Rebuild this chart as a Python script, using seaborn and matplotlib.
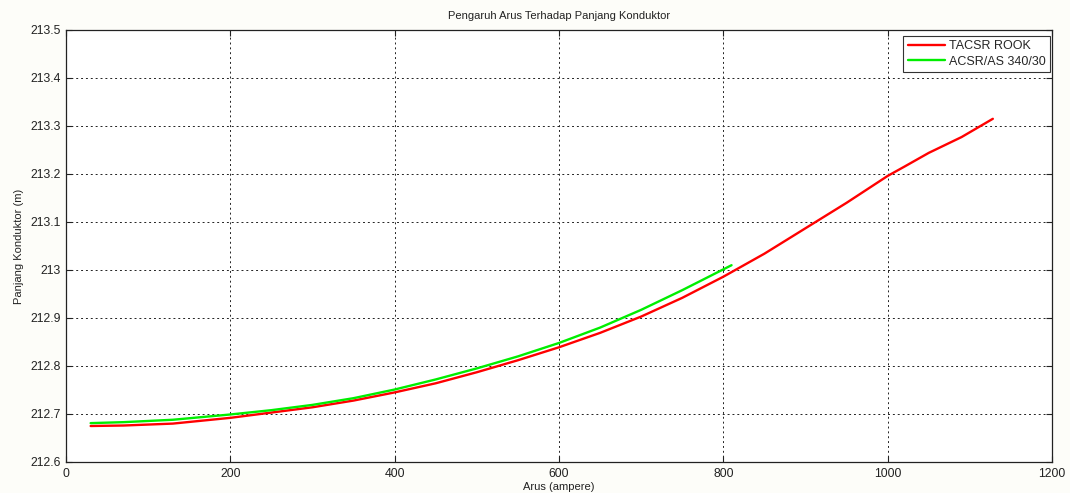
import numpy as np
import pandas as pd
import matplotlib
matplotlib.use("Agg")
import matplotlib.pyplot as plt
import seaborn as sns

# Conductor length vs. current for two conductor types
arus_tacsr = [30, 70, 130, 200, 250, 300, 350, 400, 450, 500, 550, 600, 650,
              700, 750, 800, 850, 900, 950, 1000, 1020, 1050, 1090, 1128]
panjang_tacsr = [212.675, 212.676, 212.680, 212.692, 212.703, 212.714, 212.728,
                 212.745, 212.764, 212.787, 212.812, 212.839, 212.869, 212.903,
                 212.942, 212.986, 213.034, 213.087, 213.140, 213.196, 213.215,
                 213.244, 213.277, 213.315]

arus_acsr = [30, 70, 130, 200, 250, 300, 350, 400, 450, 500, 550, 600, 650,
             700, 750, 810]
panjang_acsr = [212.681, 212.683, 212.688, 212.699, 212.708, 212.719, 212.733,
                212.751, 212.772, 212.795, 212.820, 212.848, 212.880, 212.917,
                212.958, 213.010]

series_names = ["TACSR ROOK", "ACSR/AS 340/30"]
series_colors = ["#ff0000", "#00ee00"]

x_ticks = [0, 200, 400, 600, 800, 1000, 1200]
y_ticks = [212.6, 212.7, 212.8, 212.9, 213.0, 213.1, 213.2, 213.3, 213.4, 213.5]
y_tick_labels = ["212.6", "212.7", "212.8", "212.9", "213", "213.1", "213.2",
                 "213.3", "213.4", "213.5"]

df = pd.concat([
    pd.DataFrame({"Arus": arus_tacsr, "Panjang": panjang_tacsr, "Konduktor": series_names[0]}),
    pd.DataFrame({"Arus": arus_acsr, "Panjang": panjang_acsr, "Konduktor": series_names[1]}),
], ignore_index=True)

sns.set_style("white")
plt.rcParams["font.family"] = ["Liberation Sans", "DejaVu Sans"]

fig = plt.figure(figsize=(10.7, 4.93), dpi=100, facecolor="#fdfdf9")
ax = fig.add_axes([66 / 1070, 1 - 462 / 493, (1052 - 66) / 1070, (462 - 30) / 493])
ax.set_facecolor("white")

sns.lineplot(data=df, x="Arus", y="Panjang", hue="Konduktor",
             palette=dict(zip(series_names, series_colors)),
             linewidth=1.7, sort=False, estimator=None, ax=ax)

ax.set_xlim(0, 1200)
ax.set_ylim(212.6, 213.5)
ax.set_xticks(x_ticks)
ax.set_yticks(y_ticks)
ax.set_yticklabels(y_tick_labels)
ax.tick_params(direction="in", length=4, width=0.8, colors="#222222",
               labelsize=8.8, top=True, right=True, bottom=True, left=True)
ax.tick_params(axis="x", pad=4)
ax.grid(True, color="#222222", linestyle=(0, (2, 3)), linewidth=0.7)
for s in ax.spines.values():
    s.set_color("#222222")
    s.set_linewidth(0.9)

ax.set_xlabel("Arus (ampere)", fontsize=8, color="#222222", labelpad=2)
ax.set_ylabel("Panjang Konduktor (m)", fontsize=8, color="#222222", labelpad=5)
ax.set_title("Pengaruh Arus Terhadap Panjang Konduktor", fontsize=8,
             color="#222222", pad=8)

leg = ax.legend(loc="upper right", bbox_to_anchor=(0.998, 0.986),
                fontsize=9, frameon=True, fancybox=False,
                framealpha=1, edgecolor="#333333", borderpad=0.35,
                handlelength=2.95, handletextpad=0.35, borderaxespad=0,
                labelspacing=0.25)
leg.get_frame().set_linewidth(0.8)

fig.savefig("out.png", dpi=100, facecolor=fig.get_facecolor())
